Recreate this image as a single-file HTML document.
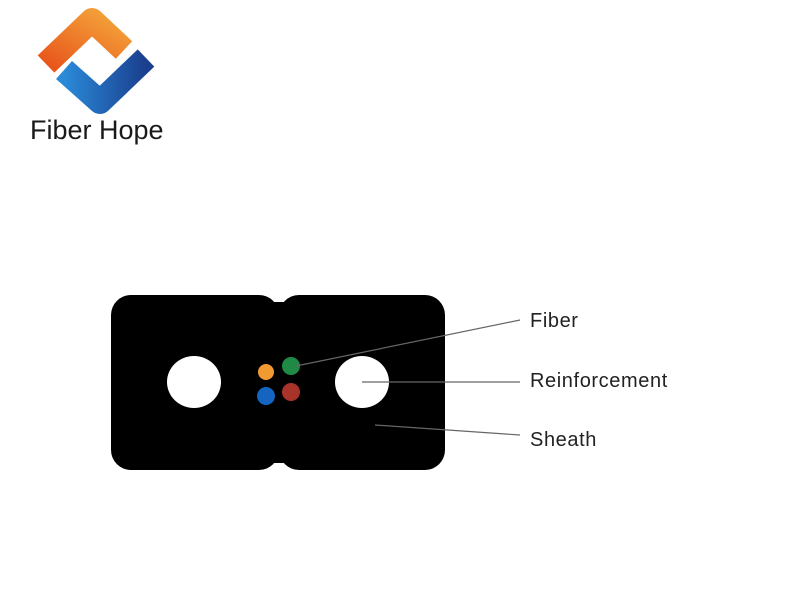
<!DOCTYPE html>
<html><head><style>
body{margin:0;width:800px;height:600px;background:#fff;overflow:hidden;position:relative;font-family:"Liberation Sans",sans-serif}
.t{position:absolute;left:530px;font-size:20px;letter-spacing:0.6px;color:#222}
</style></head><body>
<svg width="800" height="600" style="position:absolute;left:0;top:0">
<defs>
<linearGradient id="o" x1="0" y1="1" x2="1" y2="0"><stop offset="0" stop-color="#e8561c"/><stop offset="1" stop-color="#f4a43a"/></linearGradient>
<linearGradient id="b" x1="0" y1="0" x2="1" y2="0"><stop offset="0" stop-color="#2a8ad8"/><stop offset="1" stop-color="#1a3f8e"/></linearGradient>
</defs>
<polyline points="46,64 92,20 124,50" fill="none" stroke="url(#o)" stroke-width="24" stroke-linejoin="round"/>
<polyline points="64,70 100,102 146,58" fill="none" stroke="url(#b)" stroke-width="24" stroke-linejoin="round"/>
<text x="30" y="139" font-size="27" fill="#1a1a1a" font-family="Liberation Sans,sans-serif">Fiber Hope</text>
<rect x="111" y="295" width="168" height="175" rx="20" fill="#000"/>
<rect x="279" y="295" width="166" height="175" rx="20" fill="#000"/>
<rect x="265" y="302" width="28" height="161" fill="#000"/>
<ellipse cx="194" cy="382" rx="27" ry="26" fill="#fff"/>
<ellipse cx="362" cy="382" rx="27" ry="26" fill="#fff"/>
<circle cx="266" cy="372" r="8" fill="#f29a32"/>
<circle cx="291" cy="366" r="9" fill="#1e8a45"/>
<circle cx="266" cy="396" r="9" fill="#1565c0"/>
<circle cx="291" cy="392" r="9" fill="#a8332a"/>
<g stroke="#666" stroke-width="1.2">
<line x1="296" y1="366" x2="520" y2="320"/>
<line x1="362" y1="382" x2="520" y2="382"/>
<line x1="375" y1="425" x2="520" y2="435"/>
</g>
</svg>
<div class="t" style="top:310px">Fiber</div>
<div class="t" style="top:370px">Reinforcement</div>
<div class="t" style="top:429px">Sheath</div>
</body></html>
